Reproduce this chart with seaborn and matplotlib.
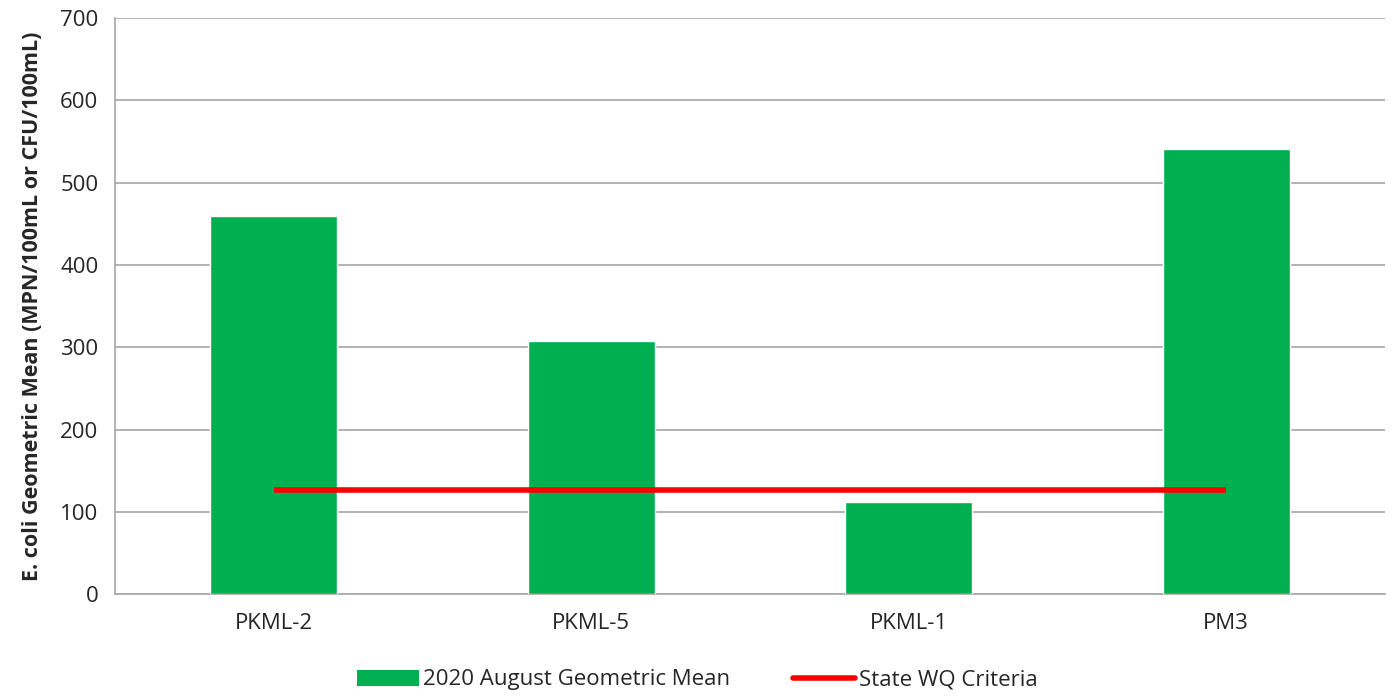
import pandas as pd
import matplotlib.pyplot as plt
import seaborn as sns
from matplotlib.lines import Line2D
from matplotlib.patches import Patch

# Data
sites = ["PKML-2", "PKML-5", "PKML-1", "PM3"]
geo_mean = [459, 307, 112, 541]
criteria = [126, 126, 126, 126]

df = pd.DataFrame({"Site": sites, "Geometric Mean": geo_mean, "Criteria": criteria})

sns.set_style("white")
plt.rcParams["font.family"] = ["Open Sans", "DejaVu Sans"]

fig = plt.figure(figsize=(13.95, 7), dpi=100)
ax = fig.add_axes([0.0824, 0.1514, 0.9104, 0.8226])

sns.barplot(x="Site", y="Geometric Mean", data=df, color="#00b050", width=0.4,
            saturation=1, ax=ax, zorder=3)
ax.plot(range(len(sites)), df["Criteria"], color="#ff0000", linewidth=4, zorder=4,
        solid_capstyle="butt")

ax.set_xlim(-0.5, len(sites) - 0.5)
ax.set_ylim(0, 700)
ax.set_yticks(range(0, 701, 100))
ax.grid(axis="y", color="#a6a6a6", linewidth=1.2, zorder=0)
ax.set_axisbelow(True)
for side in ["top", "right"]:
    ax.spines[side].set_visible(False)
for side in ["left", "bottom"]:
    ax.spines[side].set_color("#a6a6a6")
    ax.spines[side].set_linewidth(1.2)
ax.tick_params(axis="y", length=6, color="#a6a6a6", labelsize=16, pad=6)
ax.tick_params(axis="x", length=0, labelsize=16, pad=14)
ax.set_xlabel("")
ax.set_ylabel("E. coli Geometric Mean (MPN/100mL or CFU/100mL)", fontsize=15.5,
              fontweight="bold", labelpad=12)

handles = [Patch(facecolor="#00b050", edgecolor="none"),
           Line2D([0], [0], color="#ff0000", linewidth=4)]
fig.legend(handles, ["2020 August Geometric Mean", "State WQ Criteria"],
           loc="lower center", bbox_to_anchor=(0.5, -0.015), ncol=2, frameon=False,
           fontsize=16, handlelength=2.8, handletextpad=0.2, columnspacing=2.8)

plt.savefig("out.png", dpi=100)
